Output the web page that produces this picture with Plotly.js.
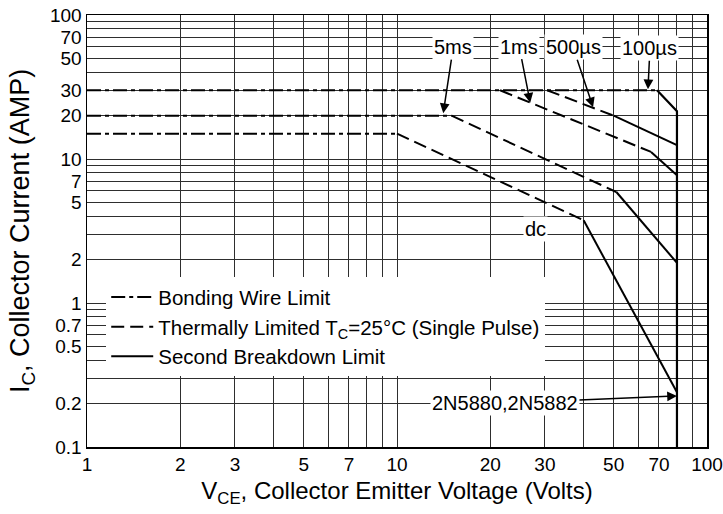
<!DOCTYPE html>
<html>
<head>
<meta charset="utf-8">
<script src="https://cdn.plot.ly/plotly-3.0.1.min.js"></script>
<style>html,body{margin:0;padding:0;background:#fff;}#chart{width:723px;height:514px;}</style>
</head>
<body>
<div id="chart"></div>
<script>
// Axis ticks (log grid lines at 1..9 of each decade)
const xTickVals = [1,2,3,4,5,6,7,8,9,10,20,30,40,50,60,70,80,90,100];
const xTickText = ['1','2','3','','5','','7','','','10','20','30','','50','','70','','','100'];
const yTickVals = [0.1,0.2,0.3,0.4,0.5,0.6,0.7,0.8,0.9,1,2,3,4,5,6,7,8,9,10,20,30,40,50,60,70,80,90,100];
const yTickText = ['0.1','0.2','','','0.5','','0.7','','','1','2','','','5','','7','','','10','20','30','','50','','70','','','100'];

// Bonding wire limit (horizontal current limits)
const bondPulseV = [1, 69];   const bondPulseI = [30, 30];
const bond5msV   = [1, 15];   const bond5msI   = [20, 20];
const bondDcV    = [1, 10];   const bondDcI    = [15, 15];

// Thermally limited segments
const thermDcV    = [10, 40];    const thermDcI    = [15, 3.75];
const therm5msV   = [15, 51];    const therm5msI   = [20, 5.9];
const therm1msV   = [21.5, 66];  const therm1msI   = [30, 11.2];
const therm500usV = [30.5, 50];  const therm500usI = [30, 20];

// Second breakdown limit segments
const sbDcV    = [40, 80];      const sbDcI    = [3.75, 0.24];
const sb5msV   = [51, 80];      const sb5msI   = [5.9, 1.9];
const sb1msV   = [66, 80];      const sb1msI   = [11.2, 7.7];
const sb500usV = [50, 80];      const sb500usI = [20, 12.5];
const sb100usV = [69, 80, 80];  const sb100usI = [30, 21.5, 0.1];

const BOND_DASH = '14px,4px,4px,4px';
const THERM_DASH = '13px,6px';

function tr(x, y, dash, name, show, rank, w) {
  return {x: x, y: y, type: 'scatter', mode: 'lines', name: name,
          legendgroup: name, showlegend: show, legendrank: rank,
          line: {color: '#000', width: w || 2, dash: dash}, hoverinfo: 'skip'};
}
const BW = 'Bonding Wire Limit';
const TL = 'Thermally Limited T<sub>C</sub>=25°C (Single Pulse)';
const SB = 'Second Breakdown Limit';

const data = [
  tr(bondPulseV, bondPulseI, BOND_DASH, BW, true, 1),
  tr(bond5msV, bond5msI, BOND_DASH, BW, false, 1),
  tr(bondDcV, bondDcI, BOND_DASH, BW, false, 1),
  tr(thermDcV, thermDcI, THERM_DASH, TL, true, 2),
  tr(therm5msV, therm5msI, THERM_DASH, TL, false, 2),
  tr(therm1msV, therm1msI, THERM_DASH, TL, false, 2),
  tr(therm500usV, therm500usI, THERM_DASH, TL, false, 2),
  tr(sbDcV, sbDcI, 'solid', SB, true, 3),
  tr(sb5msV, sb5msI, 'solid', SB, false, 3),
  tr(sb1msV, sb1msI, 'solid', SB, false, 3),
  tr(sb500usV, sb500usI, 'solid', SB, false, 3),
  tr(sb100usV, sb100usI, 'solid', SB, false, 3, 2.2)
];

const fontFam = 'Liberation Sans, Arial, sans-serif';
function lab(text, x, y, ax, ay, arrow) {
  return {text: text, x: Math.log10(x), y: Math.log10(y), xref: 'x', yref: 'y',
          ax: ax, ay: ay, showarrow: arrow, arrowhead: 2, arrowsize: 1.3, arrowwidth: 1.5,
          arrowcolor: '#000', standoff: 0, bgcolor: '#fff', borderpad: 1,
          font: {size: 20, color: '#000', family: fontFam}};
}
const annotations = [
  lab('5ms', 14.1, 20.8, 10, -66, true),
  lab('1ms', 26.9, 24.6, -11, -56, true),
  lab('500µs', 42.9, 22.9, -20, -60, true),
  lab('100µs', 64.5, 30.5, 2, -41, true),
  lab('2N5880,2N5882', 80, 0.226, -172, 7, true),
  lab('dc', 27.9, 3.27, 0, 0, false)
];

const layout = {
  width: 723, height: 514,
  margin: {l: 87, r: 16, t: 15, b: 67},
  paper_bgcolor: '#fff', plot_bgcolor: '#fff',
  font: {family: fontFam, color: '#000', size: 19},
  showlegend: true,
  legend: {x: 0.031, y: 0.393, xanchor: 'left', yanchor: 'top',
           bgcolor: '#fff', borderwidth: 0, font: {size: 20.5, family: fontFam},
           tracegroupgap: 0, itemwidth: 42},
  xaxis: {type: 'log', range: [0, 2], tickvals: xTickVals, ticktext: xTickText,
          showgrid: true, gridcolor: '#2e2e2e', gridwidth: 1,
          showline: true, linecolor: '#000', linewidth: 1.5, mirror: true,
          ticks: '', zeroline: false, tickfont: {size: 19},
          title: {text: 'V<sub>CE</sub>, Collector Emitter Voltage (Volts)', font: {size: 24}, standoff: 8}},
  yaxis: {type: 'log', range: [-1, 2], tickvals: yTickVals, ticktext: yTickText,
          showgrid: true, gridcolor: '#2e2e2e', gridwidth: 1,
          showline: true, linecolor: '#000', linewidth: 1.5, mirror: true,
          ticks: '', zeroline: false, tickfont: {size: 19},
          title: {text: 'I<sub>C</sub>, Collector Current (AMP)', font: {size: 27}, standoff: 12}},
  annotations: annotations
};

Plotly.newPlot('chart', data, layout, {displayModeBar: false, staticPlot: true});
</script>
</body>
</html>
